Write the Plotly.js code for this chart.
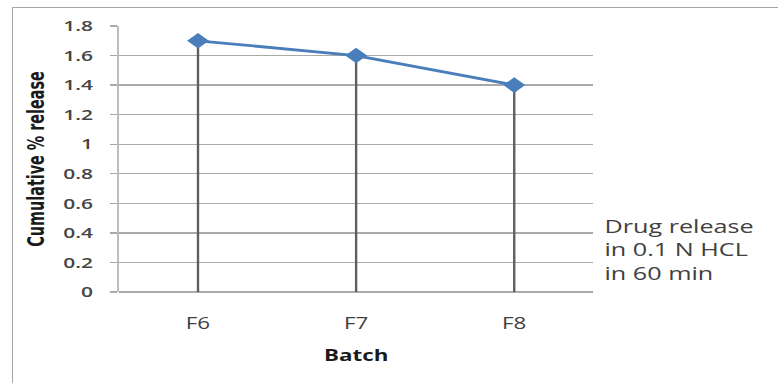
<!DOCTYPE html>
<html>
<head>
<meta charset="utf-8">
<script src="https://cdn.plot.ly/plotly-3.0.1.min.js"></script>
<style>
  html, body { margin: 0; padding: 0; background: #fff; }
  #wrap { position: relative; width: 778px; height: 383px; overflow: hidden; }
  /* the chart is laid out narrow and widened, giving the broad lettering of the figure */
  #chart { position: absolute; left: 0; top: 0; width: 556px; height: 383px;
           transform: scaleX(1.3993); transform-origin: 0 0; }
  #frame { position: absolute; left: 12px; top: 7px; width: 780px; height: 400px;
           border: 1px solid #a6a6a6; pointer-events: none; }
</style>
</head>
<body>
<div id="wrap">
  <div id="chart"></div>
  <div id="frame"></div>
</div>
<script>
// Batches and their cumulative release after 60 min in 0.1 N HCl
const batches = ['F6', 'F7', 'F8'];
const cumulativeRelease = [1.7, 1.6, 1.4];
const yTicks = [0, 0.2, 0.4, 0.6, 0.8, 1, 1.2, 1.4, 1.6, 1.8];
const yTickLabels = ['0', '0.2', '0.4', '0.6', '0.8', '1', '1.2', '1.4', '1.6', '1.8'];
const seriesName = 'Drug release<br>in 0.1 N HCL<br>in 60 min';

const blue = '#4a7ebb';
const grid = '#a9a9a9';

const trace = {
  type: 'scatter',
  mode: 'lines+markers',
  x: batches,
  y: cumulativeRelease,
  name: seriesName,
  line: { color: blue, width: 2.8 },
  marker: { symbol: 'diamond', size: 12, color: blue },
  // drop lines from each point down to the baseline
  error_y: {
    type: 'data',
    symmetric: false,
    array: cumulativeRelease.map(() => 0),
    arrayminus: cumulativeRelease,
    width: 0,
    thickness: 1.7,
    color: '#5f5f5f'
  },
  cliponaxis: false,
  hoverinfo: 'x+y'
};

const layout = {
  width: 556,
  height: 383,
  margin: { l: 85, r: 132, t: 26, b: 91 },
  paper_bgcolor: 'rgba(0,0,0,0)',
  plot_bgcolor: '#ffffff',
  showlegend: false,
  font: { family: 'Open Sans, sans-serif', color: '#404040' },
  xaxis: {
    type: 'category',
    range: [-0.5, 2.5],
    showgrid: false,
    zeroline: false,
    showline: false,
    ticks: '',
    ticklabelstandoff: 20,
    tickfont: { size: 16, color: '#404040', family: 'Open Sans, sans-serif' },
    title: {
      text: '<b>Batch</b>',
      font: { size: 16, color: '#1a1a1a', family: 'Open Sans, sans-serif' },
      standoff: 16
    }
  },
  yaxis: {
    range: [0, 1.8],
    tickvals: yTicks,
    ticktext: yTickLabels,
    showgrid: true,
    gridcolor: grid,
    gridwidth: 1.4,
    zeroline: true,
    zerolinecolor: grid,
    zerolinewidth: 1.4,
    showline: true,
    linecolor: '#bdbdbd',
    linewidth: 1.5,
    ticks: 'outside',
    ticklen: 5,
    tickcolor: grid,
    tickwidth: 1.4,
    ticklabelstandoff: 9,
    tickfont: { size: 15, weight: 600, color: '#454545', family: 'Open Sans, sans-serif' },
    title: {
      text: '<b>Cumulative % release</b>',
      font: { size: 16, color: '#1a1a1a', family: 'DejaVu Sans Condensed, Liberation Sans Narrow, sans-serif' },
      standoff: 9
    }
  },
  annotations: [{
    xref: 'paper', yref: 'paper',
    x: 1, xanchor: 'left', xshift: 6,
    y: 0.16, yanchor: 'middle',
    text: seriesName,
    align: 'left',
    showarrow: false,
    font: { size: 18, color: '#404040', family: 'Open Sans, sans-serif' }
  }]
};

Plotly.newPlot('chart', [trace], layout, { displayModeBar: false, staticPlot: true });
</script>
</body>
</html>
